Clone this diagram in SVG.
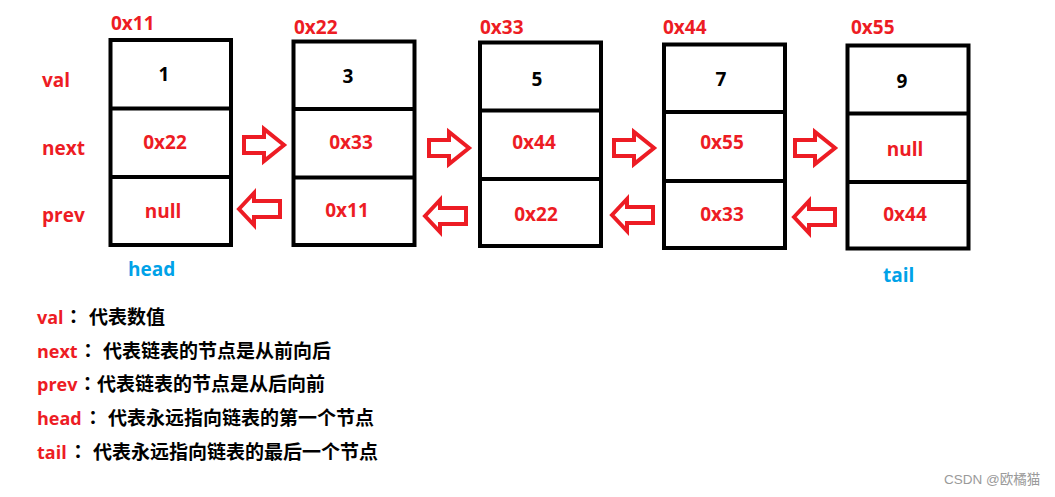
<svg xmlns="http://www.w3.org/2000/svg" xmlns:xlink="http://www.w3.org/1999/xlink" width="1055" height="497" viewBox="0 0 1055 497">
<style>
.box{fill:#fff;stroke:#000;stroke-width:4}
.div{stroke:#000;stroke-width:4}
.arr{fill:none;stroke:#ed1c24;stroke-width:4;stroke-linejoin:miter}
.t{font-family:"Open Sans","Liberation Sans",sans-serif;font-weight:bold;font-size:19px}
.lg{font-family:"Open Sans","Liberation Sans",sans-serif;font-weight:bold;font-size:18px;fill:#ed1c24}
.red{fill:#ed1c24}
.blk{fill:#000}
.blue{fill:#00a2e8}
.mid{text-anchor:middle}
.cn{font-family:"Noto Sans CJK SC",sans-serif;font-weight:bold;font-size:19px;fill:#000}
.col{font-family:"Noto Sans CJK JP",sans-serif;font-weight:bold;font-size:19px;fill:#000}
.wm{font-family:"Liberation Sans","Noto Sans CJK SC",sans-serif;font-size:13.5px;fill:#9a9a9a}
</style>
<defs>
<path id="ra" class="arr" d="M0,-8 H20 V-16 L40,0 L20,16 V8 H0 Z"/>
<path id="la" class="arr" d="M0,0 L15,-16 V-8 H41 V8 H15 V16 Z"/>
</defs>
<rect width="1055" height="497" fill="#fff"/>

<g id="labels">
<text class="t red" x="42" y="87">val</text>
<text class="t red" x="42" y="155">next</text>
<text class="t red" x="42" y="222">prev</text>
</g>

<g id="node1">
<text class="t red" x="111" y="30">0x11</text>
<rect class="box" x="110.5" y="40" width="120.5" height="205"/>
<line class="div" x1="110.5" y1="108.5" x2="231" y2="108.5"/>
<line class="div" x1="110.5" y1="177" x2="231" y2="177"/>
<text class="t blk mid" x="164" y="81">1</text>
<text class="t red mid" x="165" y="149">0x22</text>
<text class="t red mid" x="163" y="218">null</text>
<text class="t blue" x="128" y="276">head</text>
</g>

<g id="node2">
<text class="t red" x="294" y="34">0x22</text>
<rect class="box" x="293.5" y="41.5" width="121" height="203.5"/>
<line class="div" x1="293.5" y1="109" x2="414.5" y2="109"/>
<line class="div" x1="293.5" y1="177.5" x2="414.5" y2="177.5"/>
<text class="t blk mid" x="348" y="83">3</text>
<text class="t red mid" x="351" y="149">0x33</text>
<text class="t red mid" x="347" y="217">0x11</text>
</g>

<g id="node3">
<text class="t red" x="480" y="34">0x33</text>
<rect class="box" x="480" y="42.5" width="121" height="203.5"/>
<line class="div" x1="480" y1="110.5" x2="601" y2="110.5"/>
<line class="div" x1="480" y1="179" x2="601" y2="179"/>
<text class="t blk mid" x="537" y="86">5</text>
<text class="t red mid" x="534" y="149">0x44</text>
<text class="t red mid" x="536" y="221">0x22</text>
</g>

<g id="node4">
<text class="t red" x="663" y="34">0x44</text>
<rect class="box" x="664" y="44.5" width="121" height="203.5"/>
<line class="div" x1="664" y1="112" x2="785" y2="112"/>
<line class="div" x1="664" y1="181" x2="785" y2="181"/>
<text class="t blk mid" x="721" y="86">7</text>
<text class="t red mid" x="722" y="149">0x55</text>
<text class="t red mid" x="722" y="221">0x33</text>
</g>

<g id="node5">
<text class="t red" x="851" y="34">0x55</text>
<rect class="box" x="847.5" y="45.5" width="121" height="203"/>
<line class="div" x1="847.5" y1="113.5" x2="968.5" y2="113.5"/>
<line class="div" x1="847.5" y1="182" x2="968.5" y2="182"/>
<text class="t blk mid" x="902" y="88">9</text>
<text class="t red mid" x="905" y="156">null</text>
<text class="t red mid" x="905" y="221">0x44</text>
<text class="t blue" x="883" y="282">tail</text>
</g>

<g id="connectors">
<use xlink:href="#ra" x="244" y="145"/>
<use xlink:href="#ra" x="429" y="148"/>
<use xlink:href="#ra" x="614" y="148"/>
<use xlink:href="#ra" x="795" y="148"/>
<use xlink:href="#la" x="239" y="209"/>
<use xlink:href="#la" x="425" y="216"/>
<use xlink:href="#la" x="612" y="215"/>
<use xlink:href="#la" x="794" y="217"/>
</g>

<g id="legend">
<text y="324"><tspan class="lg" x="37">val</tspan><tspan class="col" x="64">：</tspan><tspan class="cn" x="89">代表数值</tspan></text>
<text y="358"><tspan class="lg" x="37">next</tspan><tspan class="col" x="78.5">：</tspan><tspan class="cn" x="103">代表链表的节点是从前向后</tspan></text>
<text y="391"><tspan class="lg" x="37">prev</tspan><tspan class="col" x="78">：</tspan><tspan class="cn" x="97">代表链表的节点是从后向前</tspan></text>
<text y="425"><tspan class="lg" x="37">head</tspan><tspan class="col" x="83.5">：</tspan><tspan class="cn" x="108">代表永远指向链表的第一个节点</tspan></text>
<text y="459"><tspan class="lg" x="37">tail</tspan><tspan class="col" x="68.5">：</tspan><tspan class="cn" x="93">代表永远指向链表的最后一个节点</tspan></text>
</g>

<text class="wm" x="944" y="484">CSDN @欧橘猫</text>
</svg>
